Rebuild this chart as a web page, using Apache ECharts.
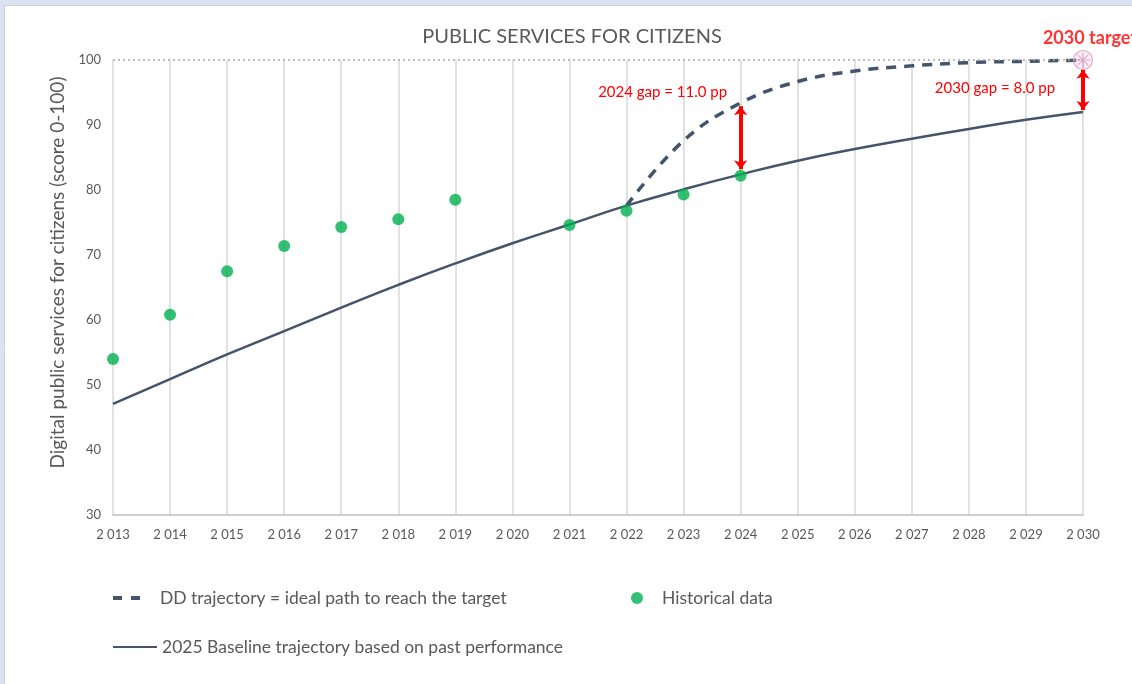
<!DOCTYPE html>
<html>
<head>
<meta charset="utf-8">
<script src="https://cdn.jsdelivr.net/npm/echarts@6/dist/echarts.min.js"></script>
<style>
  html, body { margin: 0; padding: 0; background: #fff; }
  #chart { width: 1132px; height: 684px; }
</style>
</head>
<body>
<div id="chart"></div>
<script>
// values
const years = [2013, 2014, 2015, 2016, 2017, 2018, 2019, 2020, 2021, 2022, 2023, 2024, 2025, 2026, 2027, 2028, 2029, 2030];
const historical = [54.0, 60.8, 67.5, 71.4, 74.3, 75.5, 78.5, "-", 74.6, 76.8, 79.3, 82.2, "-", "-", "-", "-", "-", "-"];
const baseline = [47.1, 50.9, 54.7, 58.3, 61.9, 65.4, 68.7, 71.8, 74.7, 77.6, 80.1, 82.4, 84.5, 86.3, 87.9, 89.4, 90.8, 92.0];
const ddTrajectory = ["-", "-", "-", "-", "-", "-", "-", "-", "-", 77.6, 87.6, 93.4, 96.7, 98.3, 99.1, 99.6, 99.8, 100];
const target = { year: "2030", value: 100 };
const gaps = [
  { year: "2024", top: 92.9, bottom: 83.2, label: "2024 gap = 11.0 pp" },
  { year: "2030", top: 98.5, bottom: 92.3, label: "2030 gap = 8.0 pp" },
];

const GREY = "#595959", SLATE = "#44546a", RED = "#ff0000";
const FONT = "Lato, 'Open Sans', sans-serif";
const cats = years.map(String);

const chart = echarts.init(document.getElementById("chart"));
chart.setOption({
  backgroundColor: "#fff",
  animation: false,
  textStyle: { fontFamily: FONT },
  graphic: [
    { type: "rect", shape: { x: 0, y: 0, width: 1132, height: 5 }, style: { fill: "#dae3f3" } },
    { type: "rect", shape: { x: 0, y: 0, width: 4, height: 684 }, style: { fill: "#dae3f3" } },
    { type: "line", shape: { x1: 4, y1: 5.5, x2: 1132, y2: 5.5 }, style: { stroke: "#d0d0d0", lineWidth: 1 } },
    { type: "line", shape: { x1: 4.5, y1: 5, x2: 4.5, y2: 684 }, style: { stroke: "#d0d0d0", lineWidth: 1 } },
  ],
  title: {
    text: "PUBLIC SERVICES FOR CITIZENS", left: 567, top: 22, textAlign: "center",
    textStyle: { color: GREY, fontSize: 20, fontWeight: "normal", fontFamily: FONT },
  },
  grid: { left: 113, right: 49, top: 60, bottom: 169 },
  legend: [
    { left: 113, top: 589, padding: 0, itemWidth: 27, itemHeight: 4,
      data: [{ name: "DD trajectory = ideal path to reach the target", icon: "path://M0 0h9v4h-9zM18 0h9v4h-9z" }],
      textStyle: { color: GREY, fontSize: 17.5, padding: [0, 0, 0, 15] } },
    { left: 631, top: 589, padding: 0, itemWidth: 40, itemHeight: 12, data: ["Historical data"],
      textStyle: { color: GREY, fontSize: 17.5 } },
    { left: 113, top: 638, padding: 0, itemWidth: 44, itemHeight: 2,
      data: [{ name: "2025 Baseline trajectory based on past performance", icon: "path://M0 0h44v2h-44z" }],
      textStyle: { color: GREY, fontSize: 17.5 } },
  ],
  xAxis: {
    type: "category", data: cats, boundaryGap: false,
    axisLine: { lineStyle: { color: "#bfbfbf", width: 1.5 } },
    axisTick: { show: false },
    axisLabel: { color: GREY, fontSize: 13, margin: 13, formatter: (v) => v.slice(0, 1) + " " + v.slice(1) },
    splitLine: { show: true, lineStyle: { color: "#d9d9d9", width: 1.5 } },
  },
  yAxis: {
    type: "value", min: 30, max: 100, interval: 10,
    name: "Digital public services for citizens (score 0-100)", nameLocation: "middle", nameGap: 44,
    nameTextStyle: { color: GREY, fontSize: 19, padding: [0, 0, 0, 30] },
    axisLine: { show: false }, axisTick: { show: false },
    axisLabel: { color: GREY, fontSize: 13, margin: 12 },
    splitLine: { show: false },
  },
  series: [
    {
      name: "2025 Baseline trajectory based on past performance", type: "line", data: baseline,
      smooth: true, symbol: "none", z: 3,
      lineStyle: { color: SLATE, width: 2.5 }, itemStyle: { color: SLATE },
      markLine: {
        silent: true, symbol: "none", label: { show: false },
        lineStyle: { color: "#a6a6a6", type: [2, 3], width: 1.5 },
        data: [{ yAxis: 100 }],
      },
    },
    {
      name: "DD trajectory = ideal path to reach the target", type: "line", data: ddTrajectory,
      smooth: 0.4, symbol: "none", z: 3,
      lineStyle: { color: SLATE, width: 3.5, type: [10, 8] }, itemStyle: { color: SLATE },
      markLine: {
        silent: true, symbol: ["arrow", "arrow"], symbolSize: [10, 9], label: { show: false },
        lineStyle: { color: RED, width: 4, type: "solid" },
        data: gaps.map((g) => [{ coord: [g.year, g.top] }, { coord: [g.year, g.bottom] }]),
      },
      markPoint: {
        silent: true, symbol: "circle", symbolSize: 0,
        data: gaps.map((g, i) => ({
          coord: [g.year, g.top],
          label: {
            show: true, formatter: g.label, color: RED, fontSize: 15, fontFamily: FONT,
            offset: i === 0 ? [-78, -14] : [-88, 18],
          },
        })),
      },
    },
    {
      name: "Historical data", type: "scatter", data: historical, symbol: "circle", symbolSize: 12, z: 4,
      itemStyle: { color: "#00b050" },
    },
    {
      name: "2030 target", type: "scatter", z: 5,
      data: [[target.year, target.value]],
      symbol: "path://M10 0A10 10 0 1 1 10 20A10 10 0 1 1 10 0ZM10 2L10 18M2 10L18 10M4.3 4.3L15.7 15.7M15.7 4.3L4.3 15.7",
      symbolSize: 19,
      itemStyle: { color: "rgba(230,170,210,0.25)", borderColor: "#d89ac2", borderWidth: 1.2 },
      label: {
        show: true, position: "top", distance: 3, offset: [7, 0], formatter: "2030 target",
        color: RED, fontSize: 18, fontWeight: "bold", fontFamily: FONT,
      },
    },
  ],
});
</script>
</body>
</html>
